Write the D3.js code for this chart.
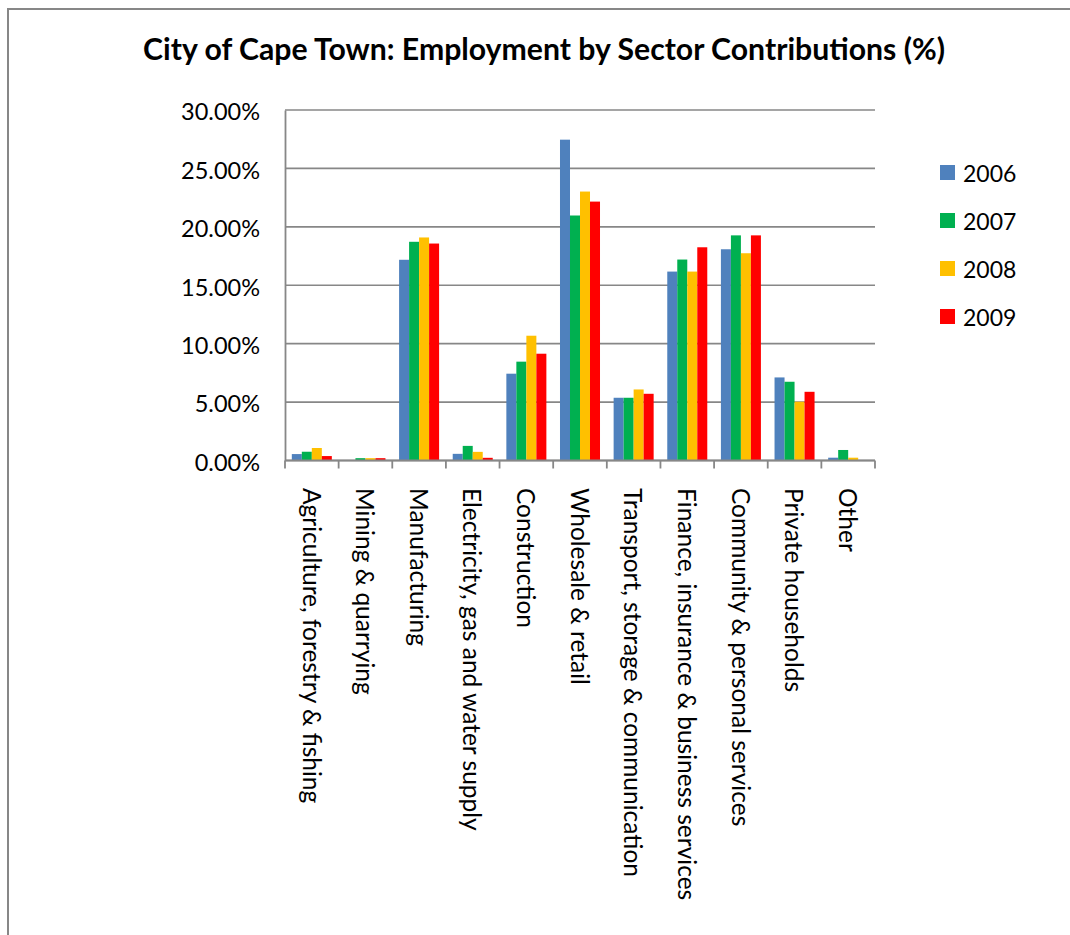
<!DOCTYPE html>
<html>
<head>
<meta charset="utf-8">
<script src="https://cdn.jsdelivr.net/npm/d3@7"></script>
<style>
  html, body { margin: 0; padding: 0; background: #fff; }
  svg { display: block; font-family: Lato, "Open Sans", sans-serif; }
</style>
</head>
<body>
<svg id="chart" width="1070" height="935"></svg>
<script>
// Sector employment shares (%), City of Cape Town
const sectors = [
  "Agriculture, forestry & fishing",
  "Mining & quarrying",
  "Manufacturing",
  "Electricity, gas and water supply",
  "Construction",
  "Wholesale & retail",
  "Transport, storage & communication",
  "Finance, insurance & business services",
  "Community & personal services",
  "Private households",
  "Other"
];
const years = ["2006", "2007", "2008", "2009"];
const values2006 = [0.55, 0.00, 17.18, 0.57, 7.43, 27.46, 5.37, 16.17, 18.08, 7.11, 0.24];
const values2007 = [0.75, 0.20, 18.72, 1.25, 8.46, 20.97, 5.37, 17.20, 19.27, 6.74, 0.90];
const values2008 = [1.07, 0.20, 19.09, 0.74, 10.68, 23.02, 6.08, 16.17, 17.74, 5.03, 0.24];
const values2009 = [0.38, 0.20, 18.57, 0.23, 9.14, 22.16, 5.71, 18.25, 19.27, 5.88, 0.00];
const yTicks = [0, 5, 10, 15, 20, 25, 30];
const seriesColors = ["#4F81BD", "#00B050", "#FFC000", "#FF0000"];
const title = "City of Cape Town: Employment by Sector Contributions (%)";

const seriesValues = [values2006, values2007, values2008, values2009];
const rows = sectors.map((s, i) => ({
  sector: s,
  vals: years.map((y, j) => ({ year: y, value: seriesValues[j][i] }))
}));

const svg = d3.select("#chart");
const plot = { left: 285, right: 875, top: 110, bottom: 460.5 };
const axisGrey = "#878787";

// outer chart frame
svg.append("rect")
  .attr("x", 8).attr("y", 9)
  .attr("width", 1120).attr("height", 1000)
  .attr("fill", "none").attr("stroke", axisGrey).attr("stroke-width", 2);

svg.append("text")
  .attr("x", 544).attr("y", 60)
  .attr("text-anchor", "middle")
  .attr("font-weight", "bold")
  .attr("font-size", 30.2)
  .attr("fill", "#000")
  .text(title);

const x = d3.scaleBand().domain(sectors).range([plot.left, plot.right]).padding(0);
const bw = x.bandwidth();
const xs = d3.scaleBand().domain(years).range([bw * 0.127, bw * 0.873]).padding(0);
const y = d3.scaleLinear().domain([0, 30]).range([plot.bottom, plot.top]);

// horizontal gridlines
svg.append("g")
  .selectAll("line")
  .data(yTicks)
  .join("line")
  .attr("x1", plot.left).attr("x2", plot.right)
  .attr("y1", d => y(d)).attr("y2", d => y(d))
  .attr("stroke", axisGrey).attr("stroke-width", 1.6);

// y axis labels
const yAxis = d3.axisLeft(y)
  .tickValues(yTicks)
  .tickSize(0)
  .tickPadding(25)
  .tickFormat(d => d.toFixed(2) + "%");
const gy = svg.append("g").attr("transform", `translate(${plot.left},0)`).call(yAxis);
gy.select(".domain").attr("stroke", axisGrey).attr("stroke-width", 1.8);
gy.selectAll("text")
  .attr("font-family", "Lato")
  .attr("font-size", 23.5)
  .attr("fill", "#000")
  .attr("dy", "0.42em");

// bars
const groups = svg.append("g")
  .selectAll("g")
  .data(rows)
  .join("g")
  .attr("transform", d => `translate(${x(d.sector)},0)`);
groups.selectAll("rect")
  .data(d => d.vals)
  .join("rect")
  .attr("x", d => xs(d.year))
  .attr("width", xs.bandwidth())
  .attr("y", d => y(d.value))
  .attr("height", d => y(0) - y(d.value))
  .attr("fill", (d, i) => seriesColors[i]);

// x axis with ticks at category boundaries
const boundaries = sectors.map(s => x(s)).concat([plot.right]);
const gx = svg.append("g");
gx.append("line")
  .attr("x1", plot.left).attr("x2", plot.right)
  .attr("y1", plot.bottom).attr("y2", plot.bottom)
  .attr("stroke", axisGrey).attr("stroke-width", 1.8);
gx.selectAll("line.tick")
  .data(boundaries)
  .join("line")
  .attr("class", "tick")
  .attr("x1", d => d).attr("x2", d => d)
  .attr("y1", plot.bottom).attr("y2", plot.bottom + 8)
  .attr("stroke", axisGrey).attr("stroke-width", 1.8);
gx.selectAll("text")
  .data(sectors)
  .join("text")
  .attr("transform", d => `translate(${x(d) + bw / 2},488) rotate(90)`)
  .attr("dy", "0.38em")
  .attr("text-anchor", "start")
  .attr("font-size", 24.5)
  .attr("fill", "#000")
  .text(d => d);

// legend
const legend = svg.append("g")
  .selectAll("g")
  .data(years)
  .join("g")
  .attr("transform", (d, i) => `translate(940,${165 + i * 48})`);
legend.append("rect")
  .attr("width", 15).attr("height", 15)
  .attr("fill", (d, i) => seriesColors[i]);
legend.append("text")
  .attr("x", 23).attr("y", 16.5)
  .attr("font-size", 23)
  .attr("fill", "#000")
  .text(d => d);
</script>
</body>
</html>
